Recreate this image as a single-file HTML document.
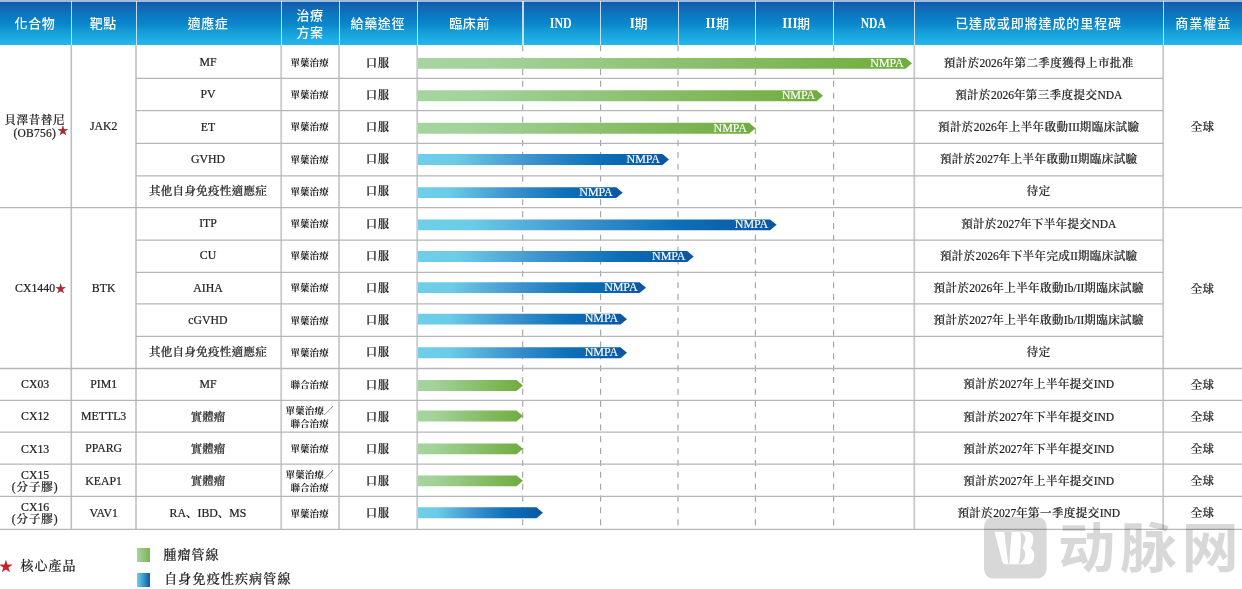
<!DOCTYPE html>
<html lang="zh-Hant"><head><meta charset="utf-8"><title>Pipeline</title><style>
html,body{margin:0;padding:0;background:#fff}
body{width:1242px;height:589px;position:relative;overflow:hidden;font-family:"Liberation Serif","Noto Serif CJK SC",serif;color:#231f20}
.hdr{position:absolute;left:0;top:0;width:1242px;height:45.2px;background:linear-gradient(180deg,#a2bce0 0,#a2bce0 1.5px,#0d5daf 2.1px,#0f60b1 4.5px,#1567b6 6.5px,#1469b7 10px,#0a76c0 13.5px,#0a80c7 20px,#0b88cb 25px,#149ad6 30px,#18a6df 36px,#28b8ec 45.2px)}
.hs{position:absolute;top:1px;height:44px;width:1.4px;background:rgba(222,230,246,.9)}
.c{position:absolute;box-sizing:border-box;padding-top:2px;display:flex;align-items:center;justify-content:center;text-align:center;font-size:11.8px;line-height:13px;white-space:nowrap;-webkit-text-stroke:.22px #231f20}
.c.h{color:#fff;-webkit-text-stroke:0;font-family:"Liberation Sans","Noto Sans CJK TC",sans-serif;font-size:13px;line-height:17px;letter-spacing:.6px;font-weight:500;padding-top:2.2px}
.c.h b{font-family:"Liberation Serif",serif;font-weight:700;font-size:15px;letter-spacing:0;display:inline-block;transform:scaleX(.8);transform-origin:100% 50%;vertical-align:baseline}
.c.h b.ctr{transform-origin:50% 50%}
.k{font-size:11.5px;font-weight:500;position:relative;top:.5px}
.o{font-size:11px;letter-spacing:1px;font-weight:600;position:relative;top:.5px}
em{font-style:normal;letter-spacing:0;font-size:11.5px}
.t{font-size:9.5px;line-height:12.8px;font-weight:700;letter-spacing:.1px;-webkit-text-stroke:0;position:relative;top:.8px;left:-.5px}
.m{font-size:11.5px;letter-spacing:.42px;font-weight:500;position:relative;top:.4px}
.w{position:relative;display:inline-block}
.s{position:absolute;left:100%;font-style:normal;color:#c4202b;font-size:12.7px;line-height:13px;letter-spacing:0;font-family:"DejaVu Sans",sans-serif}
.g{position:absolute;left:0;top:0}
.n{position:absolute;color:#fff;font-size:12px;line-height:14px;width:60px;text-align:right;letter-spacing:-.05px;-webkit-text-stroke:.15px #fff}
.lg{position:absolute;font-weight:500;-webkit-text-stroke:.2px;font-size:13px;line-height:16px;letter-spacing:1px;white-space:nowrap}
.sq{position:absolute;width:13px;height:13.5px}
.wm{position:absolute;left:984.2px;top:517.1px;height:61.6px;display:flex;align-items:center;opacity:.15;white-space:nowrap}
.wm svg{display:block;fill:#000}
.wm span{font-family:"Noto Sans CJK SC",sans-serif;font-weight:700;font-size:54px;line-height:61px;letter-spacing:4.2px;margin-left:11.7px;color:#000;position:relative;top:-3.6px;display:inline-block;transform:scaleX(1.06);transform-origin:0 50%}
</style></head><body>
<div class="hdr"></div>
<div class="c h" style="left:-0.7px;top:0px;width:71.3px;height:45px"><span>化合物</span></div>
<div class="c h" style="left:71px;top:0px;width:64.7px;height:45px"><span>靶點</span></div>
<div class="c h" style="left:135.4px;top:0px;width:145.2px;height:45px"><span>適應症</span></div>
<div class="c h" style="left:281.2px;top:0px;width:57.8px;height:45px"><span>治療<br>方案</span></div>
<div class="c h" style="left:338.7px;top:0px;width:78.2px;height:45px"><span>給藥途徑</span></div>
<div class="c h" style="left:416.9px;top:0px;width:105.5px;height:45px"><span>臨床前</span></div>
<div class="c h" style="left:521.8px;top:0px;width:77.9px;height:45px"><span><b class="ctr">IND</b></span></div>
<div class="c h" style="left:600px;top:0px;width:77.4px;height:45px"><span><b style="margin-left:-0.75px;transform:scaleX(.87)">I</b>期</span></div>
<div class="c h" style="left:679px;top:0px;width:77.4px;height:45px"><span><b style="margin-left:-1.52px;transform:scaleX(.87)">II</b>期</span></div>
<div class="c h" style="left:757.2px;top:0px;width:78.2px;height:45px"><span><b style="margin-left:-2.27px;transform:scaleX(.87)">III</b>期</span></div>
<div class="c h" style="left:833px;top:0px;width:80.7px;height:45px"><span><b class="ctr" style="transform:scaleX(.775)">NDA</b></span></div>
<div class="c h" style="left:914.1px;top:0px;width:248.9px;height:45px"><span><span style="letter-spacing:.9px">已達成或即將達成的里程碑</span></span></div>
<div class="c h" style="left:1163.8px;top:0px;width:78.8px;height:45px"><span><span style="letter-spacing:.95px">商業權益</span></span></div>
<div class="hs" style="left:70.8px"></div>
<div class="hs" style="left:135.5px"></div>
<div class="hs" style="left:280.7px"></div>
<div class="hs" style="left:338.5px"></div>
<div class="hs" style="left:416.7px"></div>
<div class="hs" style="left:522.2px"></div>
<div class="hs" style="left:600.1px"></div>
<div class="hs" style="left:677.5px"></div>
<div class="hs" style="left:754.9px"></div>
<div class="hs" style="left:833.1px"></div>
<div class="hs" style="left:913.8px"></div>
<div class="hs" style="left:1162.7px"></div>
<svg class="g" width="1242" height="589" viewBox="0 0 1242 589">
<defs>
<linearGradient id="gg" x1="0" y1="0" x2="1" y2="0"><stop offset="0" stop-color="#a6d49f"/><stop offset="0.15" stop-color="#a3d29a"/><stop offset="1" stop-color="#6fac3c"/></linearGradient>
<linearGradient id="gb" x1="0" y1="0" x2="1" y2="0"><stop offset="0" stop-color="#6fcfe9"/><stop offset="0.15" stop-color="#6ccbe7"/><stop offset="0.45" stop-color="#3d92cd"/><stop offset="0.72" stop-color="#0c70b8"/><stop offset="1" stop-color="#0c55a3"/></linearGradient>
</defs>
<line x1="522.7" x2="522.7" y1="45.3" y2="529" stroke="#a3a3aa" stroke-width="1.15" stroke-dasharray="6 5.847"/>
<line x1="600.6" x2="600.6" y1="45.3" y2="529" stroke="#a3a3aa" stroke-width="1.15" stroke-dasharray="6 5.847"/>
<line x1="678" x2="678" y1="45.3" y2="529" stroke="#a3a3aa" stroke-width="1.15" stroke-dasharray="6 5.847"/>
<line x1="755.4" x2="755.4" y1="45.3" y2="529" stroke="#a3a3aa" stroke-width="1.15" stroke-dasharray="6 5.847"/>
<line x1="833.6" x2="833.6" y1="45.3" y2="529" stroke="#a3a3aa" stroke-width="1.15" stroke-dasharray="6 5.847"/>
<line x1="71.3" x2="71.3" y1="45" y2="529.4" stroke="#bdbdc4" stroke-width="1.6"/>
<line x1="136" x2="136" y1="45" y2="529.4" stroke="#cdcdd1" stroke-width="2"/>
<line x1="281.2" x2="281.2" y1="45" y2="529.4" stroke="#c9c9cd" stroke-width="1.8"/>
<line x1="339" x2="339" y1="45" y2="529.4" stroke="#c9c9cd" stroke-width="1.8"/>
<line x1="417.2" x2="417.2" y1="45" y2="529.4" stroke="#c9c9cd" stroke-width="1.8"/>
<line x1="914.3" x2="914.3" y1="45" y2="529.4" stroke="#c9c9cd" stroke-width="1.8"/>
<line x1="1163.2" x2="1163.2" y1="45" y2="529.4" stroke="#c9c9cd" stroke-width="1.8"/>
<line x1="136" x2="1163.2" y1="78.4" y2="78.4" stroke="#b6b6ba" stroke-width="1.3"/>
<line x1="136" x2="1163.2" y1="110.6" y2="110.6" stroke="#b6b6ba" stroke-width="1.3"/>
<line x1="136" x2="1163.2" y1="143.4" y2="143.4" stroke="#b6b6ba" stroke-width="1.3"/>
<line x1="136" x2="1163.2" y1="175.9" y2="175.9" stroke="#b6b6ba" stroke-width="1.3"/>
<line x1="0" x2="1242" y1="207.6" y2="207.6" stroke="#b6b6ba" stroke-width="1.3"/>
<line x1="136" x2="1163.2" y1="240.1" y2="240.1" stroke="#b6b6ba" stroke-width="1.3"/>
<line x1="136" x2="1163.2" y1="272.3" y2="272.3" stroke="#b6b6ba" stroke-width="1.3"/>
<line x1="136" x2="1163.2" y1="303.8" y2="303.8" stroke="#b6b6ba" stroke-width="1.3"/>
<line x1="136" x2="1163.2" y1="336.3" y2="336.3" stroke="#b6b6ba" stroke-width="1.3"/>
<line x1="0" x2="1242" y1="368.5" y2="368.5" stroke="#b6b6ba" stroke-width="1.3"/>
<line x1="0" x2="1242" y1="400.4" y2="400.4" stroke="#b6b6ba" stroke-width="1.3"/>
<line x1="0" x2="1242" y1="432.2" y2="432.2" stroke="#b6b6ba" stroke-width="1.3"/>
<line x1="0" x2="1242" y1="464.2" y2="464.2" stroke="#b6b6ba" stroke-width="1.3"/>
<line x1="0" x2="1242" y1="496.4" y2="496.4" stroke="#b6b6ba" stroke-width="1.3"/>
<line x1="0" x2="1242" y1="529.4" y2="529.4" stroke="#b6b6ba" stroke-width="1.3"/>
<path d="M418 57.90H905.50L912.00 63.35L905.50 68.80H418Z" fill="url(#gg)"/>
<path d="M418 90.30H816.50L823.00 95.75L816.50 101.20H418Z" fill="url(#gg)"/>
<path d="M418 122.80H749.00L755.50 128.25L749.00 133.70H418Z" fill="url(#gg)"/>
<path d="M418 154.10H662.50L669.00 159.55L662.50 165.00H418Z" fill="url(#gb)"/>
<path d="M418 187.20H616.20L622.70 192.65L616.20 198.10H418Z" fill="url(#gb)"/>
<path d="M418 219.40H770.10L776.60 224.85L770.10 230.30H418Z" fill="url(#gb)"/>
<path d="M418 251.10H687.20L693.70 256.55L687.20 262.00H418Z" fill="url(#gb)"/>
<path d="M418 282.20H639.50L646.00 287.65L639.50 293.10H418Z" fill="url(#gb)"/>
<path d="M418 313.70H620.50L627.00 319.15L620.50 324.60H418Z" fill="url(#gb)"/>
<path d="M418 347.30H620.50L627.00 352.75L620.50 358.20H418Z" fill="url(#gb)"/>
<path d="M418 380.00H516.50L523.00 385.45L516.50 390.90H418Z" fill="url(#gg)"/>
<path d="M418 410.60H516.50L523.00 416.05L516.50 421.50H418Z" fill="url(#gg)"/>
<path d="M418 443.40H516.50L523.00 448.85L516.50 454.30H418Z" fill="url(#gg)"/>
<path d="M418 475.40H516.50L523.00 480.85L516.50 486.30H418Z" fill="url(#gg)"/>
<path d="M418 507.30H536.50L543.00 512.75L536.50 518.20H418Z" fill="url(#gb)"/>
</svg>
<div class="n" style="left:843.70px;top:55.65px">NMPA</div>
<div class="n" style="left:755.10px;top:88.05px">NMPA</div>
<div class="n" style="left:686.90px;top:120.55px">NMPA</div>
<div class="n" style="left:599.90px;top:151.85px">NMPA</div>
<div class="n" style="left:552.70px;top:184.95px">NMPA</div>
<div class="n" style="left:708.20px;top:217.15px">NMPA</div>
<div class="n" style="left:625.40px;top:248.85px">NMPA</div>
<div class="n" style="left:577.50px;top:279.95px">NMPA</div>
<div class="n" style="left:558.10px;top:311.45px">NMPA</div>
<div class="n" style="left:558.10px;top:345.05px">NMPA</div>
<div class="c " style="left:-0.9px;top:44.1px;width:71.3px;height:162.6px"><span class="k" style="letter-spacing:0.6px;line-height:12.5px">貝澤昔替尼<br><span class="w"><em style="letter-spacing:.25px">(OB756)</em><i class="s" style="margin-left:1.2px;top:-3.4px">★</i></span></span></div>
<div class="c " style="left:71.3px;top:44.1px;width:64.7px;height:162.6px"><span>JAK2</span></div>
<div class="c " style="left:1163.2px;top:45px;width:78.8px;height:162.6px"><span class="k" style="letter-spacing:0.3px">全球</span></div>
<div class="c " style="left:-0.6px;top:206.7px;width:71.3px;height:160.9px"><span class="w">CX1440<i class="s" style="margin-left:0px;top:0.4px">★</i></span></div>
<div class="c " style="left:71.3px;top:206.7px;width:64.7px;height:160.9px"><span>BTK</span></div>
<div class="c " style="left:1163.2px;top:207.6px;width:78.8px;height:160.9px"><span class="k" style="letter-spacing:0.3px">全球</span></div>
<div class="c " style="left:-0.5px;top:367.5px;width:71.3px;height:32.19px"><span style="line-height:12.6px">CX03</span></div>
<div class="c " style="left:71.3px;top:367.5px;width:64.7px;height:32.19px"><span>PIM1</span></div>
<div class="c " style="left:1163.2px;top:367.5px;width:78.8px;height:32.19px"><span class="k" style="letter-spacing:0.3px">全球</span></div>
<div class="c " style="left:-0.5px;top:399.69px;width:71.3px;height:32.19px"><span style="line-height:12.6px">CX12</span></div>
<div class="c " style="left:71.3px;top:399.69px;width:64.7px;height:32.19px"><span>METTL3</span></div>
<div class="c " style="left:1163.2px;top:399.69px;width:78.8px;height:32.19px"><span class="k" style="letter-spacing:0.3px">全球</span></div>
<div class="c " style="left:-0.5px;top:431.88px;width:71.3px;height:32.19px"><span style="line-height:12.6px">CX13</span></div>
<div class="c " style="left:71.3px;top:431.88px;width:64.7px;height:32.19px"><span>PPARG</span></div>
<div class="c " style="left:1163.2px;top:431.88px;width:78.8px;height:32.19px"><span class="k" style="letter-spacing:0.3px">全球</span></div>
<div class="c " style="left:-0.5px;top:464.07px;width:71.3px;height:32.19px"><span style="line-height:12.6px">CX15<br><span class="k" style="letter-spacing:.9px;line-height:12px;top:0">(分子膠)</span></span></div>
<div class="c " style="left:71.3px;top:464.07px;width:64.7px;height:32.19px"><span>KEAP1</span></div>
<div class="c " style="left:1163.2px;top:464.07px;width:78.8px;height:32.19px"><span class="k" style="letter-spacing:0.3px">全球</span></div>
<div class="c " style="left:-0.5px;top:496.26px;width:71.3px;height:32.19px"><span style="line-height:12.6px">CX16<br><span class="k" style="letter-spacing:.9px;line-height:12px;top:0">(分子膠)</span></span></div>
<div class="c " style="left:71.3px;top:496.26px;width:64.7px;height:32.19px"><span>VAV1</span></div>
<div class="c " style="left:1163.2px;top:496.26px;width:78.8px;height:32.19px"><span class="k" style="letter-spacing:0.3px">全球</span></div>
<div class="c " style="left:135.4px;top:45.6px;width:145.2px;height:32.19px"><span>MF</span></div>
<div class="c " style="left:281.2px;top:45.6px;width:57.8px;height:32.19px"><span class="t">單藥治療</span></div>
<div class="c " style="left:339px;top:45.6px;width:78.2px;height:32.19px"><span class="o">口服</span></div>
<div class="c " style="left:914.3px;top:45.6px;width:248.9px;height:32.19px"><span class="m">預計於<em>2026</em>年第二季度獲得上市批准</span></div>
<div class="c " style="left:135.4px;top:77.79px;width:145.2px;height:32.19px"><span>PV</span></div>
<div class="c " style="left:281.2px;top:77.79px;width:57.8px;height:32.19px"><span class="t">單藥治療</span></div>
<div class="c " style="left:339px;top:77.79px;width:78.2px;height:32.19px"><span class="o">口服</span></div>
<div class="c " style="left:914.3px;top:77.79px;width:248.9px;height:32.19px"><span class="m">預計於<em>2026</em>年第三季度提交<em>NDA</em></span></div>
<div class="c " style="left:135.4px;top:109.98px;width:145.2px;height:32.19px"><span>ET</span></div>
<div class="c " style="left:281.2px;top:109.98px;width:57.8px;height:32.19px"><span class="t">單藥治療</span></div>
<div class="c " style="left:339px;top:109.98px;width:78.2px;height:32.19px"><span class="o">口服</span></div>
<div class="c " style="left:914.3px;top:109.98px;width:248.9px;height:32.19px"><span class="m">預計於<em>2026</em>年上半年啟動<em>III</em>期臨床試驗</span></div>
<div class="c " style="left:135.4px;top:142.17px;width:145.2px;height:32.19px"><span>GVHD</span></div>
<div class="c " style="left:281.2px;top:142.17px;width:57.8px;height:32.19px"><span class="t">單藥治療</span></div>
<div class="c " style="left:339px;top:142.17px;width:78.2px;height:32.19px"><span class="o">口服</span></div>
<div class="c " style="left:914.3px;top:142.17px;width:248.9px;height:32.19px"><span class="m">預計於<em>2027</em>年上半年啟動<em>II</em>期臨床試驗</span></div>
<div class="c " style="left:135.4px;top:174.36px;width:145.2px;height:32.19px"><span><span class="k" style="letter-spacing:0.3px">其他自身免疫性適應症</span></span></div>
<div class="c " style="left:281.2px;top:174.36px;width:57.8px;height:32.19px"><span class="t">單藥治療</span></div>
<div class="c " style="left:339px;top:174.36px;width:78.2px;height:32.19px"><span class="o">口服</span></div>
<div class="c " style="left:914.3px;top:174.36px;width:248.9px;height:32.19px"><span class="m">待定</span></div>
<div class="c " style="left:135.4px;top:206.55px;width:145.2px;height:32.19px"><span>ITP</span></div>
<div class="c " style="left:281.2px;top:206.55px;width:57.8px;height:32.19px"><span class="t">單藥治療</span></div>
<div class="c " style="left:339px;top:206.55px;width:78.2px;height:32.19px"><span class="o">口服</span></div>
<div class="c " style="left:914.3px;top:206.55px;width:248.9px;height:32.19px"><span class="m">預計於<em>2027</em>年下半年提交<em>NDA</em></span></div>
<div class="c " style="left:135.4px;top:238.74px;width:145.2px;height:32.19px"><span>CU</span></div>
<div class="c " style="left:281.2px;top:238.74px;width:57.8px;height:32.19px"><span class="t">單藥治療</span></div>
<div class="c " style="left:339px;top:238.74px;width:78.2px;height:32.19px"><span class="o">口服</span></div>
<div class="c " style="left:914.3px;top:238.74px;width:248.9px;height:32.19px"><span class="m">預計於<em>2026</em>年下半年完成<em>II</em>期臨床試驗</span></div>
<div class="c " style="left:135.4px;top:270.93px;width:145.2px;height:32.19px"><span>AIHA</span></div>
<div class="c " style="left:281.2px;top:270.93px;width:57.8px;height:32.19px"><span class="t">單藥治療</span></div>
<div class="c " style="left:339px;top:270.93px;width:78.2px;height:32.19px"><span class="o">口服</span></div>
<div class="c " style="left:914.3px;top:270.93px;width:248.9px;height:32.19px"><span class="m">預計於<em>2026</em>年上半年啟動<em>Ib/II</em>期臨床試驗</span></div>
<div class="c " style="left:135.4px;top:303.12px;width:145.2px;height:32.19px"><span>cGVHD</span></div>
<div class="c " style="left:281.2px;top:303.12px;width:57.8px;height:32.19px"><span class="t">單藥治療</span></div>
<div class="c " style="left:339px;top:303.12px;width:78.2px;height:32.19px"><span class="o">口服</span></div>
<div class="c " style="left:914.3px;top:303.12px;width:248.9px;height:32.19px"><span class="m">預計於<em>2027</em>年上半年啟動<em>Ib/II</em>期臨床試驗</span></div>
<div class="c " style="left:135.4px;top:335.31px;width:145.2px;height:32.19px"><span><span class="k" style="letter-spacing:0.3px">其他自身免疫性適應症</span></span></div>
<div class="c " style="left:281.2px;top:335.31px;width:57.8px;height:32.19px"><span class="t">單藥治療</span></div>
<div class="c " style="left:339px;top:335.31px;width:78.2px;height:32.19px"><span class="o">口服</span></div>
<div class="c " style="left:914.3px;top:335.31px;width:248.9px;height:32.19px"><span class="m">待定</span></div>
<div class="c " style="left:135.4px;top:367.5px;width:145.2px;height:32.19px"><span>MF</span></div>
<div class="c " style="left:281.2px;top:367.5px;width:57.8px;height:32.19px"><span class="t">聯合治療</span></div>
<div class="c " style="left:339px;top:367.5px;width:78.2px;height:32.19px"><span class="o">口服</span></div>
<div class="c " style="left:914.3px;top:367.5px;width:248.9px;height:32.19px"><span class="m">預計於<em>2027</em>年上半年提交<em>IND</em></span></div>
<div class="c " style="left:135.4px;top:399.69px;width:145.2px;height:32.19px"><span><span class="k" style="letter-spacing:0px">實體瘤</span></span></div>
<div class="c " style="left:281.2px;top:399.69px;width:57.8px;height:32.19px"><span class="t">單藥治療／<br>聯合治療</span></div>
<div class="c " style="left:339px;top:399.69px;width:78.2px;height:32.19px"><span class="o">口服</span></div>
<div class="c " style="left:914.3px;top:399.69px;width:248.9px;height:32.19px"><span class="m">預計於<em>2027</em>年下半年提交<em>IND</em></span></div>
<div class="c " style="left:135.4px;top:431.88px;width:145.2px;height:32.19px"><span><span class="k" style="letter-spacing:0px">實體瘤</span></span></div>
<div class="c " style="left:281.2px;top:431.88px;width:57.8px;height:32.19px"><span class="t">單藥治療</span></div>
<div class="c " style="left:339px;top:431.88px;width:78.2px;height:32.19px"><span class="o">口服</span></div>
<div class="c " style="left:914.3px;top:431.88px;width:248.9px;height:32.19px"><span class="m">預計於<em>2027</em>年下半年提交<em>IND</em></span></div>
<div class="c " style="left:135.4px;top:464.07px;width:145.2px;height:32.19px"><span><span class="k" style="letter-spacing:0px">實體瘤</span></span></div>
<div class="c " style="left:281.2px;top:464.07px;width:57.8px;height:32.19px"><span class="t">單藥治療／<br>聯合治療</span></div>
<div class="c " style="left:339px;top:464.07px;width:78.2px;height:32.19px"><span class="o">口服</span></div>
<div class="c " style="left:914.3px;top:464.07px;width:248.9px;height:32.19px"><span class="m">預計於<em>2027</em>年上半年提交<em>IND</em></span></div>
<div class="c " style="left:135.4px;top:496.26px;width:145.2px;height:32.19px"><span>RA<span class="k" style="letter-spacing:0px">、</span>IBD<span class="k" style="letter-spacing:0px">、</span>MS</span></div>
<div class="c " style="left:281.2px;top:496.26px;width:57.8px;height:32.19px"><span class="t">單藥治療</span></div>
<div class="c " style="left:339px;top:496.26px;width:78.2px;height:32.19px"><span class="o">口服</span></div>
<div class="c " style="left:914.3px;top:496.26px;width:248.9px;height:32.19px"><span class="m">預計於<em>2027</em>年第一季度提交<em>IND</em></span></div>
<div class="lg" style="left:-1.6px;top:558.6px;color:#c4202b;font-size:16.5px;letter-spacing:0;font-family:'DejaVu Sans',sans-serif">★</div>
<div class="lg" style="left:20.4px;top:558px">核心產品</div>
<div class="sq" style="left:137px;top:548px;background:linear-gradient(90deg,#a6d49f,#7db550)"></div>
<div class="sq" style="left:137px;top:573px;background:linear-gradient(90deg,#6fcfe9,#0c5aa8)"></div>
<div class="lg" style="left:163.5px;top:547px">腫瘤管線</div>
<div class="lg" style="left:164.2px;top:571px;letter-spacing:1.15px">自身免疫性疾病管線</div>
<div class="wm"><svg width="62.6" height="61.6" viewBox="0 0 62.6 61" preserveAspectRatio="none"><path fill-rule="evenodd" d="M11 0H51.6Q62.6 0 62.6 11V50Q62.6 61 51.6 61H11Q0 61 0 50V11Q0 0 11 0Z M10.6 14.6H45Q49.6 16 49.3 22.4Q49 28 46.5 30.8Q50.6 33.5 50.2 39Q49.8 45.5 45 46.7H21.5Q19 46.7 18.3 44.2Z"/><path d="M20.2 14.6H27.8Q26 32 25.4 46.2H24.2Z"/><path d="M36.1 14.6Q42.5 18 41.4 22.5Q40.5 27 38.3 30.8Q42 34 41.2 38.5Q40.3 43.5 35.3 46.7H34.7Q36 40 36.7 30.8Q37.4 20 36.1 14.6Z"/></svg><span>动脉网</span></div>
</body></html>
